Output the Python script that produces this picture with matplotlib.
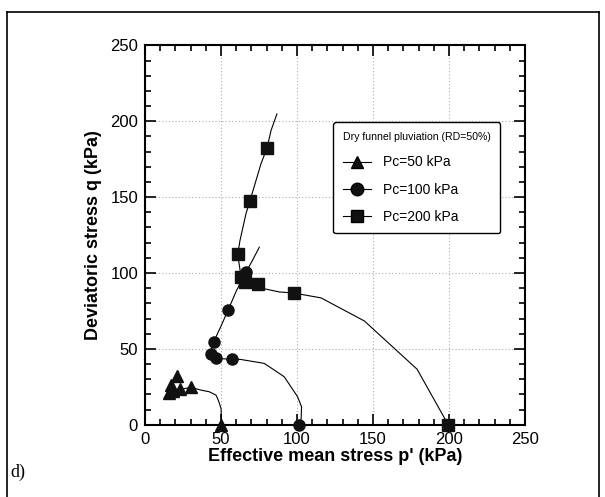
import matplotlib.pyplot as plt
from matplotlib.lines import Line2D
from matplotlib.ticker import MultipleLocator
from matplotlib import font_manager

plt.rcParams["font.family"] = ["Liberation Sans", "DejaVu Sans"]

# Pc = 50 kPa
p50_line = [50.4, 50.4, 50.0, 48.2, 46.7, 42.3, 36.8, 30.3, 23.2, 17.1, 17.1, 21.0, 22.0]
q50_line = [0.0, 2.0, 10.8, 16.2, 19.5, 21.7, 22.8, 24.6, 23.3, 21.0, 26.1, 32.3, 35.0]
p50_mark = [50.0, 30.3, 23.2, 18.5, 16.0, 17.1, 21.0]
q50_mark = [0.0, 24.6, 23.3, 22.0, 21.0, 26.1, 32.3]

# Pc = 100 kPa
p100_line = [101.0, 102.6, 103.0, 100.4, 91.6, 78.5, 63.0, 57.0, 50.0, 46.0, 43.4,
             43.6, 45.2, 50.0, 54.8, 60.0, 66.4, 70.0, 75.2]
q100_line = [0.0, 1.0, 11.8, 18.4, 31.6, 40.4, 43.0, 43.2, 43.5, 44.0, 46.5,
             50.0, 54.6, 65.0, 75.9, 88.0, 100.7, 107.0, 117.0]
p100_mark = [101.0, 57.0, 46.7, 43.4, 45.2, 54.8, 65.5, 66.4]
q100_mark = [0.0, 43.2, 43.7, 46.5, 54.6, 75.9, 98.0, 100.7]

# Pc = 200 kPa
p200_line = [199.5, 179.0, 144.3, 115.8, 97.8, 88.4, 76.6, 74.5, 65.8, 63.2, 61.0,
             62.5, 66.4, 69.0, 76.3, 80.3, 82.9, 86.8]
q200_line = [0.0, 36.6, 68.4, 83.6, 86.8, 87.5, 90.0, 92.6, 94.0, 97.4, 112.3,
             121.5, 139.0, 147.4, 172.0, 182.5, 193.9, 204.9]
p200_mark = [199.5, 97.8, 74.5, 65.8, 63.2, 61.0, 69.0, 80.3]
q200_mark = [0.0, 86.8, 92.6, 94.0, 97.4, 112.3, 147.4, 182.5]

series = [
    ("Pc=50 kPa", "^", p50_line, q50_line, p50_mark, q50_mark),
    ("Pc=100 kPa", "o", p100_line, q100_line, p100_mark, q100_mark),
    ("Pc=200 kPa", "s", p200_line, q200_line, p200_mark, q200_mark),
]

# condensed face for the legend if there is one
noms = {f.name for f in font_manager.fontManager.ttflist}
leg_font = "Liberation Sans Narrow" if "Liberation Sans Narrow" in noms else "Liberation Sans"

fig = plt.figure(figsize=(6.05, 4.97), dpi=100)
ax = fig.add_axes([0.2397, 0.1455, 0.628, 0.763])

handles = []
for label, mk, pl, ql, pm, qm in series:
    ax.plot(pl, ql, color="black", lw=0.8, zorder=3)
    ax.plot(pm, qm, ls="none", marker=mk, color="#111111", ms=8, zorder=4, clip_on=False)
    handles.append(Line2D([], [], color="black", lw=0.8, marker=mk, ms=9,
                          markerfacecolor="#111111", label=label))

ax.set_xlim(0, 250)
ax.set_ylim(0, 250)
ax.xaxis.set_major_locator(MultipleLocator(50))
ax.yaxis.set_major_locator(MultipleLocator(50))
ax.xaxis.set_minor_locator(MultipleLocator(10))
ax.yaxis.set_minor_locator(MultipleLocator(10))
ax.tick_params(which="both", direction="in", top=True, right=True, width=1.2)
ax.tick_params(which="major", length=8, labelsize=12, pad=5)
ax.tick_params(which="minor", length=4)
for s in ax.spines.values():
    s.set_linewidth(1.5)
ax.grid(True, which="major", ls=(0, (1, 2)), color="#aaaaaa", lw=0.8)

ax.set_xlabel("Effective mean stress p' (kPa)", fontsize=13, fontweight="bold", labelpad=1)
ax.set_ylabel("Deviatoric stress q (kPa)", fontsize=13, fontweight="bold", labelpad=6)

leg = ax.legend(handles=handles, title="Dry funnel pluviation (RD=50%)",
                loc="upper left", bbox_to_anchor=(0.495, 0.797), borderaxespad=0,
                prop={"family": leg_font, "size": 10},
                frameon=True, fancybox=True,
                edgecolor="black", handlelength=2.0, labelspacing=0.95,
                handletextpad=0.9, borderpad=0.7, framealpha=1)
leg.get_title().set_fontsize(8.5 if leg_font.endswith("Narrow") else 7.6)
leg.get_title().set_family(leg_font)
leg.get_frame().set_linewidth(1.0)
leg._legend_box.align = "left"

# outer frame around the panel
fig.add_artist(Line2D([7 / 605, 7 / 605], [-0.05, 1 - 12 / 497], transform=fig.transFigure, color="black", lw=1.2))
fig.add_artist(Line2D([7 / 605, 599 / 605], [1 - 12 / 497, 1 - 12 / 497], transform=fig.transFigure, color="black", lw=1.2))
fig.add_artist(Line2D([599 / 605, 599 / 605], [-0.05, 1 - 12 / 497], transform=fig.transFigure, color="black", lw=1.2))

fig.text(10 / 605, 1 - 472 / 497, "d)", fontsize=13, family="Liberation Serif", va="center")

fig.savefig("out.png", dpi=100)
